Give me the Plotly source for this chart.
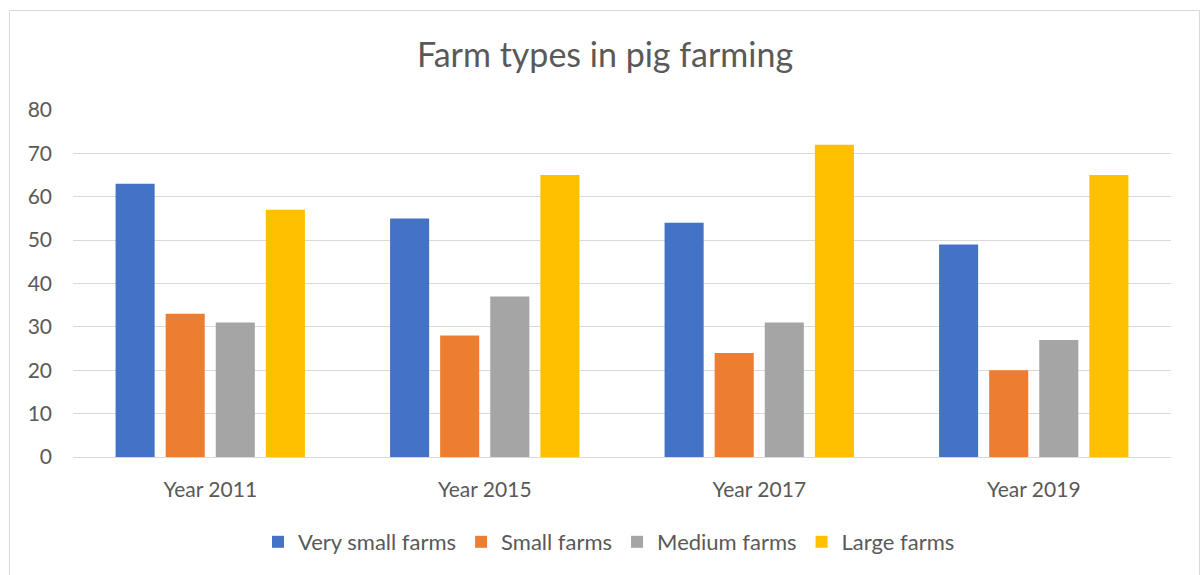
import plotly.graph_objects as go

categories = ["Year 2011", "Year 2015", "Year 2017", "Year 2019"]
very_small = [63, 55, 54, 49]
small = [33, 28, 24, 20]
medium = [31, 37, 31, 27]
large = [57, 65, 72, 65]
series_names = ["Very small farms", "Small farms", "Medium farms", "Large farms"]
colors = ["#4472C4", "#ED7D31", "#A5A5A5", "#FFC000"]

W, H = 1203, 575
ml, mr, mt, mb = 73, 32, 110, 118
pw, ph = W - ml - mr, H - mt - mb

fig = go.Figure()
for name, vals, c in zip(series_names, [very_small, small, medium, large], colors):
    fig.add_trace(go.Bar(x=categories, y=vals, name=name, marker=dict(color=c, line=dict(width=0))))

font_family = "Lato, Open Sans, sans-serif"
fig.update_layout(
    width=W, height=H,
    margin=dict(l=ml, r=mr, t=mt, b=mb),
    paper_bgcolor="white", plot_bgcolor="white",
    barmode="group", bargap=0.27, bargroupgap=0.22,
    font=dict(family=font_family, color="#595959", size=21),
    title=dict(text="Farm types in pig farming", x=(605) / W, xanchor="center",
               y=1 - 55 / H, yanchor="middle", font=dict(size=34, color="#595959")),
    showlegend=True,
    legend=dict(orientation="h", xref="paper", x=(609 - ml) / pw, xanchor="center",
                yref="paper", y=(457 - 542) / ph, yanchor="middle",
                font=dict(size=22, color="#595959"), itemwidth=30, traceorder="normal"),
    xaxis=dict(showgrid=False, showline=True, linecolor="#D9D9D9", linewidth=1,
               ticks="", tickfont=dict(size=21, color="#595959"), ticklabelstandoff=14),
    yaxis=dict(range=[0, 80], dtick=10, showgrid=True, gridcolor="#D9D9D9", gridwidth=1,
               zeroline=False, showline=False, ticks="",
               tickfont=dict(size=21, color="#595959"), ticklabelstandoff=20),
)
# outer chart border
fig.add_shape(type="rect", xref="paper", yref="paper",
              x0=(9.5 - ml) / pw, x1=(1199.5 - ml) / pw,
              y0=(H - mb - 580) / ph, y1=(H - mb - 10.5) / ph,
              line=dict(color="#D9D9D9", width=1), fillcolor="rgba(0,0,0,0)", layer="below")

fig.write_html("out.html")
